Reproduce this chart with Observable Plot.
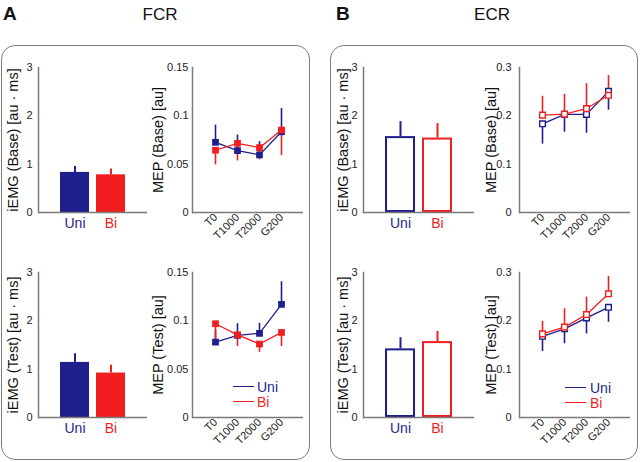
<!DOCTYPE html>
<html><head><meta charset="utf-8">
<script src="https://cdn.jsdelivr.net/npm/d3@7"></script>
<script src="https://cdn.jsdelivr.net/npm/@observablehq/plot@0.6"></script>
<style>
body{margin:0;background:#fff;font-family:Arial,"Liberation Sans",sans-serif;}
#fig{position:relative;width:640px;height:462px;overflow:hidden;background:#fff}
.panel{position:absolute;border:1.5px solid #7d7d7d;border-radius:14px;box-sizing:border-box}
.t{position:absolute;line-height:1;white-space:nowrap;color:#111}
.lg{position:absolute;height:0}
</style></head><body><div id="fig"></div>
<script>
const times = ["T0", "T1000", "T2000", "G200"];
const groups = ["Uni", "Bi"];
const colorUni = "#1e1e8c", colorBi = "#f01e1e";
const iemgTicks = [0, 1, 2, 3];
const fcrMepTicks = [0, 0.05, 0.1, 0.15];
const ecrMepTicks = [0, 0.1, 0.2, 0.3];

// iEMG (bars: Uni, Bi)
const fcrIemgBase = [0.83, 0.78];
const fcrIemgBaseErr = [0.12, 0.12];
const fcrIemgTest = [1.14, 0.92];
const fcrIemgTestErr = [0.18, 0.16];
const ecrIemgBase = [1.57, 1.54];
const ecrIemgBaseErr = [0.31, 0.30];
const ecrIemgTest = [1.42, 1.57];
const ecrIemgTestErr = [0.23, 0.21];

// MEP (T0, T1000, T2000, G200)
const fcrMepBaseUni = [0.0726, 0.0640, 0.0596, 0.0835];
const fcrMepBaseUniErr = [0.0178, 0.0161, 0.0137, 0.0241];
const fcrMepBaseBi = [0.0644, 0.0716, 0.0671, 0.0853];
const fcrMepBaseBiErr = [0.0151, 0.0182, 0.0126, 0.0264];
const fcrMepTestUni = [0.078, 0.085, 0.087, 0.117];
const fcrMepTestUniErr = [0.012, 0.012, 0.0104, 0.0234];
const fcrMepTestBi = [0.097, 0.0855, 0.076, 0.088];
const fcrMepTestBiErr = [0.019, 0.012, 0.0086, 0.0145];
const ecrMepBaseUni = [0.1835, 0.203, 0.203, 0.2507];
const ecrMepBaseUniErr = [0.042, 0.037, 0.039, 0.039];
const ecrMepBaseBi = [0.2014, 0.2034, 0.2151, 0.2425];
const ecrMepBaseBiErr = [0.039, 0.041, 0.0514, 0.041];
const ecrMepTestUni = [0.168, 0.1835, 0.206, 0.228];
const ecrMepTestUniErr = [0.0315, 0.031, 0.033, 0.031];
const ecrMepTestBi = [0.173, 0.187, 0.213, 0.256];
const ecrMepTestBiErr = [0.026, 0.038, 0.036, 0.036];

const fig = document.getElementById("fig");
const FONT = "Arial, 'Liberation Sans', sans-serif";
const AXIS = "#7a7a7a";
const col = g => g === "Uni" ? colorUni : colorBi;
const fmt = d3.format("~g");

function place(el, left, top) {
  el.style.position = "absolute";
  el.style.left = left + "px";
  el.style.top = top + "px";
  fig.appendChild(el);
}
function addText(txt, left, top, size, opts = {}) {
  const d = document.createElement("div");
  d.className = "t";
  d.textContent = txt;
  d.style.left = left + "px";
  d.style.top = top + "px";
  d.style.fontSize = size + "px";
  if (opts.bold) d.style.fontWeight = "bold";
  if (opts.color) d.style.color = opts.color;
  if (opts.center) d.style.transform = "translateX(-50%)";
  fig.appendChild(d);
}
function addPanel(left, top, w, h) {
  const d = document.createElement("div");
  d.className = "panel";
  Object.assign(d.style, {left: left + "px", top: top + "px", width: w + "px", height: h + "px"});
  fig.appendChild(d);
}

function barChart({values, errs, label, hollow, left, top, mL, mR, labelOffset}) {
  const data = groups.map((g, i) => ({g, v: values[i], e: errs[i]}));
  const p = Plot.plot({
    width: 160, height: 200, marginLeft: mL, marginRight: mR, marginTop: 17, marginBottom: 38,
    style: {fontFamily: FONT, fontSize: "11px", color: "#222", background: "transparent", overflow: "visible"},
    x: {domain: groups, paddingInner: 0.19, paddingOuter: 0.57, axis: null},
    y: {domain: [0, 3], axis: null},
    marks: [
      Plot.barY(data, {x: "g", y: "v", fill: hollow ? "white" : d => col(d.g), stroke: hollow ? d => col(d.g) : "none", strokeWidth: 2, inset: hollow ? 1 : 0}),
      Plot.ruleX(data, {x: "g", y1: "v", y2: d => d.v + d.e, stroke: d => col(d.g), strokeWidth: 2}),
      Plot.ruleY([0], {stroke: AXIS, strokeWidth: 1.5}),
      Plot.frame({anchor: "left", stroke: AXIS, strokeWidth: 1.5}),
      Plot.axisY({ticks: iemgTicks, tickSize: 0, tickPadding: 6, tickFormat: fmt, label: null, fontSize: 11}),
      Plot.text([label], {frameAnchor: "left", rotate: -90, dx: -labelOffset, lineAnchor: "top", textAnchor: "middle", fontSize: 14.5, fill: "#111"}),
      Plot.text(data, {x: "g", text: "g", frameAnchor: "bottom", dy: 6, lineAnchor: "top", fill: d => col(d.g), fontSize: 14})
    ]
  });
  place(p, left, top);
}

function lineChart({uni, uniErr, bi, biErr, dirUni, dirBi, ticks, ymax, label, hollow, left, top, mL, mR, labelOffset, tickPadding}) {
  const rows = [];
  times.forEach((t, i) => rows.push({t, g: "Uni", v: uni[i], e: uniErr[i], dir: dirUni}));
  times.forEach((t, i) => rows.push({t, g: "Bi", v: bi[i], e: biErr[i], dir: dirBi}));
  const p = Plot.plot({
    width: 160, height: 200, marginLeft: mL, marginRight: mR, marginTop: 17, marginBottom: 38,
    style: {fontFamily: FONT, fontSize: "11px", color: "#222", background: "transparent", overflow: "visible"},
    x: {type: "point", domain: times, padding: 1, axis: null},
    y: {domain: [0, ymax], axis: null},
    marks: [
      Plot.ruleX(rows, {x: "t", y1: "v", y2: d => d.v + d.dir * d.e, stroke: d => col(d.g), strokeWidth: 1.6}),
      Plot.line(rows, {x: "t", y: "v", z: "g", stroke: d => col(d.g), strokeWidth: 1.3}),
      Plot.dot(rows, {x: "t", y: "v", symbol: "square", r: hollow ? 3.2 : 3.8,
        fill: hollow ? "white" : d => col(d.g), stroke: hollow ? d => col(d.g) : "none", strokeWidth: 1.4}),
      Plot.ruleY([0], {stroke: AXIS, strokeWidth: 1.5}),
      Plot.frame({anchor: "left", stroke: AXIS, strokeWidth: 1.5}),
      Plot.axisY({ticks, tickSize: 0, tickPadding, tickFormat: fmt, label: null, fontSize: 11}),
      Plot.axisX({tickSize: 0, tickPadding: 3, tickRotate: -45, label: null, fontSize: 11}),
      Plot.text([label], {frameAnchor: "left", rotate: -90, dx: -labelOffset, lineAnchor: "top", textAnchor: "middle", fontSize: 14.5, fill: "#111"})
    ]
  });
  place(p, left, top);
}

function legend(x, yUni, textX) {
  [["Uni", yUni], ["Bi", yUni + 15]].forEach(([g, y]) => {
    const l = document.createElement("div");
    l.className = "lg";
    Object.assign(l.style, {left: x + "px", top: (y - 0.75) + "px", width: "21px", borderTop: "1.5px solid " + col(g)});
    fig.appendChild(l);
    addText(g, textX, y - 7, 14, {color: col(g)});
  });
}

// panels and titles
addPanel(1, 45, 309, 415);
addPanel(330, 45, 308, 415);
addText("A", 3, 4, 19, {bold: true});
addText("FCR", 160, 6, 17, {center: true});
addText("B", 336, 4, 19, {bold: true});
addText("ECR", 492, 6, 17, {center: true});

// FCR
barChart({values: fcrIemgBase, errs: fcrIemgBaseErr, label: "iEMG (Base) [au · ms]", hollow: false, left: 0, top: 50, mL: 38, mR: 13, labelOffset: 31});
lineChart({uni: fcrMepBaseUni, uniErr: fcrMepBaseUniErr, bi: fcrMepBaseBi, biErr: fcrMepBaseBiErr, dirUni: 1, dirBi: -1,
  ticks: fcrMepTicks, ymax: 0.15, label: "MEP (Base) [au]", hollow: false, left: 150, top: 50, mL: 42, mR: 7, labelOffset: 40, tickPadding: 4});
barChart({values: fcrIemgTest, errs: fcrIemgTestErr, label: "iEMG (Test) [au · ms]", hollow: false, left: 0, top: 255, mL: 38, mR: 13, labelOffset: 31});
lineChart({uni: fcrMepTestUni, uniErr: fcrMepTestUniErr, bi: fcrMepTestBi, biErr: fcrMepTestBiErr, dirUni: 1, dirBi: -1,
  ticks: fcrMepTicks, ymax: 0.15, label: "MEP (Test) [au]", hollow: false, left: 150, top: 255, mL: 42, mR: 7, labelOffset: 40, tickPadding: 4});
legend(233, 387, 257);

// ECR
barChart({values: ecrIemgBase, errs: ecrIemgBaseErr, label: "iEMG (Base) [au · ms]", hollow: true, left: 320, top: 50, mL: 43, mR: 6, labelOffset: 26});
lineChart({uni: ecrMepBaseUni, uniErr: ecrMepBaseUniErr, bi: ecrMepBaseBi, biErr: ecrMepBaseBiErr, dirUni: -1, dirBi: 1,
  ticks: ecrMepTicks, ymax: 0.3, label: "MEP (Base) [au]", hollow: true, left: 475, top: 50, mL: 44, mR: 5, labelOffset: 34, tickPadding: 8});
barChart({values: ecrIemgTest, errs: ecrIemgTestErr, label: "iEMG (Test) [au · ms]", hollow: true, left: 320, top: 255, mL: 43, mR: 6, labelOffset: 26});
lineChart({uni: ecrMepTestUni, uniErr: ecrMepTestUniErr, bi: ecrMepTestBi, biErr: ecrMepTestBiErr, dirUni: -1, dirBi: 1,
  ticks: ecrMepTicks, ymax: 0.3, label: "MEP (Test) [au]", hollow: true, left: 475, top: 255, mL: 44, mR: 5, labelOffset: 34, tickPadding: 8});
legend(565, 388, 590);
</script></body></html>
